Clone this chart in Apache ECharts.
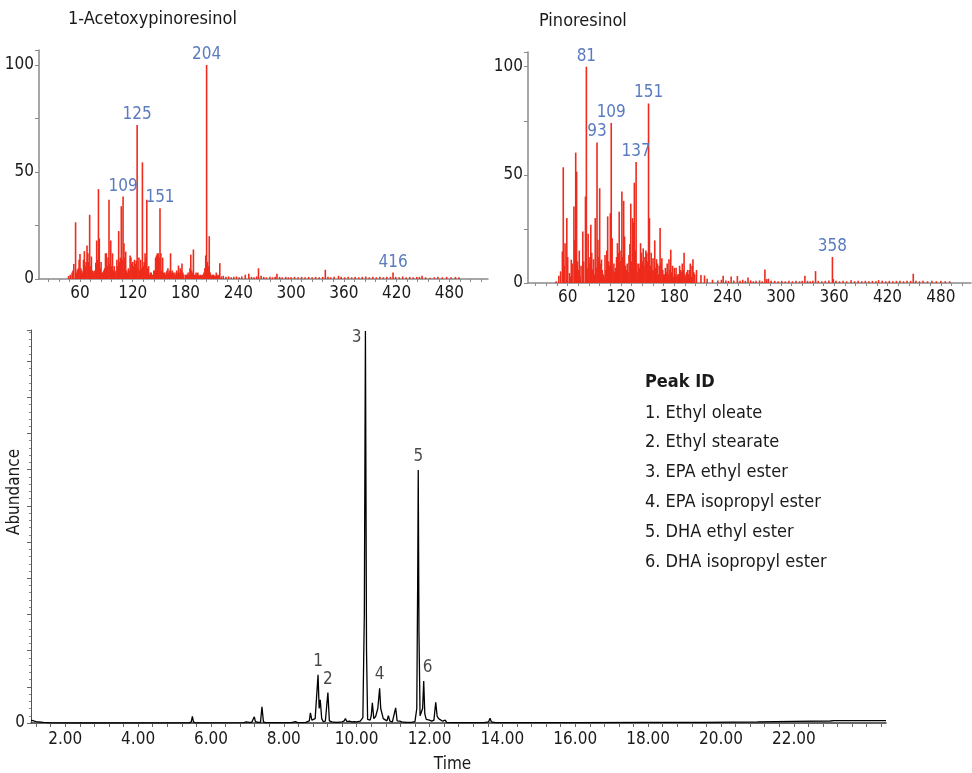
<!DOCTYPE html>
<html>
<head>
<meta charset="utf-8">
<title>GC/MS – ethyl esters</title>
<script src="https://cdn.jsdelivr.net/npm/echarts@6/dist/echarts.min.js"></script>
<style>
  html, body { margin: 0; padding: 0; background: #fff; }
  #chart { width: 972px; height: 773px; }
</style>
</head>
<body>
<div id="chart"></div>
<script>
// Mass spectrum of 1-acetoxypinoresinol: [m/z, relative abundance]
const acetoxyPeaks = [
  [47, 1.4], [49, 2], [51, 3], [52, 4], [53, 7], [55, 26.5], [56, 3], [57, 4.3], [58, 5], [59, 9],
  [60, 11.7], [61, 5], [62, 4], [63, 3], [64, 9], [65, 13], [66, 6], [67, 8], [68, 15.6], [69, 12],
  [70, 8], [71, 30], [72, 6], [73, 10.5], [74, 4], [75, 3], [76, 3.7], [77, 4], [78, 7.6], [79, 18],
  [80, 9], [81, 42], [82, 19], [83, 5], [84, 8], [85, 3], [86, 3], [87, 4], [88, 5], [89, 12],
  [90, 12], [91, 6], [92, 10], [93, 37], [94, 7], [95, 18], [96, 6], [97, 12], [98, 4], [99, 6],
  [100, 3], [101, 4], [102, 9], [103, 6], [104, 22.4], [105, 8], [106, 10], [107, 34], [108, 9], [109, 38.5],
  [110, 16.7], [111, 10], [112, 12.8], [113, 4], [114, 3], [115, 5], [116, 4], [117, 11], [118, 10], [119, 7],
  [120, 8], [121, 6], [122, 9], [123, 7], [124, 8.5], [125, 72], [126, 5], [127, 10], [128, 4], [129, 9],
  [130, 5], [131, 54.5], [132, 6], [133, 8], [134, 12], [135, 10], [136, 37], [137, 5], [138, 6], [139, 2],
  [140, 3], [141, 3], [142, 2], [143, 2], [144, 4], [145, 4], [146, 10], [147, 11], [148, 12], [149, 12],
  [150, 10], [151, 33], [152, 12], [153, 4], [154, 10], [155, 3], [156, 3], [157, 2], [158, 3], [159, 4],
  [160, 5], [161, 3], [162, 4], [163, 12], [164, 3], [165, 4], [166, 3], [167, 2], [168, 3], [169, 2],
  [170, 4], [171, 3], [172, 6.3], [173, 3], [174, 5], [175, 4], [176, 7.3], [177, 3], [178, 2], [180, 2],
  [181, 2], [182, 2], [183, 3], [184, 2], [185, 5], [186, 11.4], [187, 4], [188, 3], [189, 13.8], [190, 2],
  [191, 2], [192, 3], [193, 2], [194, 3], [195, 2], [196, 1.5], [197, 2], [198, 1.5], [199, 2], [200, 2],
  [201, 3], [202, 5], [203, 11], [204, 100], [205, 8], [206, 6], [207, 20], [208, 3], [209, 2], [210, 1.5],
  [211, 2], [212, 2], [213, 1.5], [214, 1.5], [215, 3], [216, 1.5], [217, 2], [218, 1.5], [219, 7.4], [221, 1.2],
  [223, 1.5], [226, 1], [229, 1.2], [232, 0.8], [235, 1], [238, 1.2], [241, 0.8], [244, 1.2], [248, 2], [252, 2.5],
  [255, 1], [258, 0.8], [261, 1.2], [263, 5], [266, 1.5], [269, 1], [272, 0.8], [276, 1], [279, 0.8], [282, 1],
  [284, 2.5], [287, 1], [290, 0.8], [294, 1], [297, 0.8], [300, 0.8], [304, 1], [308, 0.8], [312, 1], [316, 0.8],
  [320, 1], [324, 0.8], [328, 1], [332, 0.8], [336, 1], [339, 4.3], [342, 1], [345, 0.8], [349, 1], [354, 1.5],
  [357, 1], [361, 0.8], [365, 1], [369, 0.8], [373, 1], [377, 0.8], [381, 1], [385, 1.2], [389, 0.8], [393, 1],
  [397, 0.8], [401, 1], [405, 0.8], [409, 1], [413, 1], [416, 3], [419, 1], [423, 0.8], [427, 1.2], [431, 0.8],
  [435, 1], [439, 0.8], [443, 1], [446, 1], [449, 1.5], [453, 0.8], [458, 0.6], [463, 0.8], [467, 1], [472, 0.8],
  [477, 1], [482, 0.8], [487, 1], [491, 0.8]
]
const acetoxyLabels = [109, 125, 151, 204, 416]

// Mass spectrum of pinoresinol
const pinoPeaks = [
  [47, 0.8], [50, 3.4], [52, 5.4], [54, 14.6], [55, 53.5], [56, 8], [57, 18.4], [59, 30], [60, 12], [62, 4.6],
  [63, 3], [64, 10.8], [65, 9], [67, 35.4], [68, 20], [69, 60.3], [70, 51.5], [71, 10], [72, 6], [73, 15],
  [74, 3], [75, 8], [77, 23.8], [78, 10], [80, 40], [81, 100], [82, 7], [83, 22.8], [84, 12], [85, 9],
  [86, 26.9], [87, 14], [88, 6.3], [89, 11], [90, 4], [91, 30], [92, 7], [93, 65], [94, 20], [95, 12],
  [96, 43.8], [97, 9], [98, 10.8], [99, 6], [100, 4], [101, 3], [102, 13], [103, 6], [104, 15], [105, 30.8],
  [106, 10], [107, 8], [108, 32.3], [109, 74], [110, 20.7], [111, 6], [112, 9], [113, 5], [114, 7], [115, 12],
  [116, 18.4], [117, 14], [118, 33], [119, 10], [120, 15], [121, 42.3], [122, 12], [123, 38], [124, 21.5], [125, 8],
  [126, 6], [127, 9], [128, 5], [129, 13], [130, 18], [131, 36.7], [132, 10], [133, 30], [134, 28], [135, 46.4],
  [136, 15], [137, 56], [138, 9], [139, 5], [140, 9], [141, 7], [142, 18.4], [143, 14], [144, 10], [145, 16],
  [146, 8], [147, 12], [148, 15], [149, 14], [150, 10], [151, 83], [152, 30], [153, 8], [154, 14], [155, 6],
  [156, 11.5], [157, 6], [158, 19.7], [159, 7], [160, 11], [161, 9], [162, 4], [163, 8], [164, 25.4], [165, 9],
  [166, 11.5], [167, 6], [168, 4], [169, 4], [170, 7], [171, 5], [172, 9], [173, 4], [174, 11], [175, 6],
  [176, 15.4], [177, 5], [178, 8], [179, 3], [180, 7], [181, 4], [182, 7], [183, 3], [184, 4], [185, 4],
  [186, 8], [187, 6], [188, 5], [189, 9], [190, 6], [191, 14], [192, 4], [193, 3], [194, 5], [195, 6],
  [196, 4], [197, 6], [198, 9], [199, 3], [200, 8], [201, 11], [202, 5], [203, 4], [205, 6], [210, 3.7],
  [214, 3.5], [217, 2], [223, 1.5], [229, 1.2], [233, 1.5], [235, 3.4], [238, 1.2], [241, 1], [244, 3], [247, 1.2],
  [251, 3.2], [254, 1], [257, 1.5], [260, 1], [263, 2.5], [266, 1.2], [269, 0.8], [272, 1], [276, 1.2], [279, 0.8],
  [282, 6.2], [284, 1.8], [286, 2], [289, 1], [293, 1], [297, 0.8], [301, 1], [305, 0.8], [309, 1], [313, 0.8],
  [317, 1], [321, 0.8], [324, 1], [327, 3.4], [330, 1], [333, 0.8], [336, 1], [339, 5.5], [342, 1], [346, 0.8],
  [350, 1], [354, 1.2], [358, 12], [359, 1.8], [362, 1], [366, 0.8], [370, 1], [374, 0.8], [379, 1.3], [383, 0.8],
  [387, 1], [391, 0.8], [395, 1], [399, 0.8], [403, 1], [407, 0.8], [410, 1.3], [414, 1], [418, 0.8], [422, 1],
  [426, 0.8], [430, 1], [434, 1], [438, 0.8], [442, 1], [446, 1], [449, 4.3], [452, 1], [456, 0.8], [460, 1],
  [465, 0.8], [470, 1], [475, 0.8], [480, 1], [485, 0.8], [490, 0.8]
]
const pinoLabels = [81, 93, 109, 137, 151, 358]

const mzTickLabels = [60, 120, 180, 240, 300, 360, 420, 480]

// Total ion chromatogram: [time (min), abundance]
const chromPoints = [
  [1.06, 8], [1.2, 4], [1.4, 1.5], [1.6, 0.5], [2.5, 0], [5.40, 0.5], [5.46, 3], [5.49, 18], [5.52, 3], [5.58, 0.5],
  [6.9, 1], [6.97, 3], [7.05, 2], [7.12, 2], [7.16, 5], [7.19, 17], [7.22, 4], [7.3, 1.5], [7.36, 2], [7.40, 45],
  [7.44, 3], [7.5, 1], [8.2, 1], [8.32, 4], [8.38, 1], [8.6, 2], [8.70, 6], [8.73, 28], [8.77, 8], [8.81, 10],
  [8.86, 12], [8.94, 133], [8.97, 40], [9.00, 64], [9.04, 12], [9.08, 4], [9.14, 5], [9.21, 84], [9.25, 6], [9.32, 3],
  [9.44, 2], [9.6, 3], [9.66, 6], [9.69, 12], [9.73, 4], [9.8, 5], [9.87, 3], [9.93, 4], [10.0, 3], [10.1, 5],
  [10.17, 15], [10.21, 300], [10.24, 1083], [10.27, 200], [10.30, 10], [10.37, 8], [10.40, 20], [10.43, 56], [10.47, 12], [10.52, 18],
  [10.58, 40], [10.63, 96], [10.66, 40], [10.69, 35], [10.73, 12], [10.76, 8], [10.83, 6], [10.87, 20], [10.91, 5], [10.98, 3],
  [11.03, 8], [11.07, 42], [11.11, 6], [11.18, 5], [11.24, 3], [11.36, 2], [11.5, 2], [11.6, 4], [11.65, 40], [11.675, 400],
  [11.69, 699], [11.71, 250], [11.74, 20], [11.78, 15], [11.81, 40], [11.84, 116], [11.87, 25], [11.91, 10], [11.96, 6], [12.0, 8],
  [12.06, 5], [12.12, 8], [12.17, 57], [12.21, 18], [12.25, 12], [12.3, 8], [12.36, 5], [12.43, 8], [12.47, 2], [12.6, 1],
  [13.5, 1], [13.62, 3], [13.66, 13], [13.7, 3], [13.8, 1], [16, 1], [18, 1.5], [19.5, 2], [21, 3], [22, 4.5],
  [23.0, 5.5], [23.1, 6.5], [24.53, 6.5]
]

const peakIds = ['1', '2', '3', '4', '5', '6']
const peakTimes = [8.94, 9.21, 10.24, 10.63, 11.69, 11.84]
const peakHeights = [133, 84, 1083, 96, 699, 116]
const peakNames = [
  '1. Ethyl oleate',
  '2. Ethyl stearate',
  '3. EPA ethyl ester',
  '4. EPA isopropyl ester',
  '5. DHA ethyl ester',
  '6. DHA isopropyl ester',
]
const timeTickLabels = [2, 4, 6, 8, 10, 12, 14, 16, 18, 20, 22]

const fontFam = '"Liberation Sans Narrow", "DejaVu Sans Condensed", Roboto, sans-serif'
const textColor = '#1a1a1a'
const barRed = '#ee2b1c'
const labelBlue = '#5a7bbf'

// minor ticks on the m/z axes every 12 units, on the time axis every 0.4 min
const mzTicks = []
for (let v = 24; v <= 516; v += 12) mzTicks.push(v)
const timeTicks = []
for (let k = 3; k <= 61; k++) timeTicks.push(+(k * 0.4).toFixed(1))

const spectrumData = (peaks, labelled) => peaks.map(p => {
  const item = { value: p }
  if (labelled.includes(p[0])) {
    item.label = { show: true, position: 'top', distance: 2, formatter: String(p[0]) }
  }
  return item
})

const mzAxis = (idx, min, max) => ({
  type: 'value',
  gridIndex: idx,
  min: min,
  max: max,
  axisLine: { lineStyle: { color: '#8a8a8a', width: 1.5 } },
  axisTick: { show: true, length: 3, customValues: mzTicks.filter(v => v > min && v < max), lineStyle: { color: '#8a8a8a' } },
  axisLabel: { customValues: mzTickLabels, color: textColor, fontFamily: fontFam, fontSize: 17, margin: 6 },
  splitLine: { show: false },
})

const pctAxis = (idx, max) => ({
  type: 'value',
  gridIndex: idx,
  min: 0,
  max: max,
  interval: 25,
  axisLine: { show: true, lineStyle: { color: '#8a8a8a', width: 1.5 } },
  axisTick: { show: true, length: 4, lineStyle: { color: '#8a8a8a' } },
  axisLabel: {
    color: textColor, fontFamily: fontFam, fontSize: 17, margin: 5,
    formatter: v => (v % 50 === 0 ? String(v) : ''),
  },
  splitLine: { show: false },
})

const myChart = echarts.init(document.getElementById('chart'))

const option = {
  animation: false,
  backgroundColor: '#fff',
  textStyle: { fontFamily: fontFam },
  grid: [
    { left: 39, right: 484, top: 50, bottom: 494, outerBoundsMode: 'none' },
    { left: 528, right: 1, top: 52, bottom: 490, outerBoundsMode: 'none' },
    { left: 31, right: 86, top: 330, bottom: 50, outerBoundsMode: 'none' },
  ],
  xAxis: [
    mzAxis(0, 13.4, 524),
    mzAxis(1, 15.3, 514),
    {
      type: 'value',
      gridIndex: 2,
      min: 1.06,
      max: 24.53,
      name: 'Time',
      nameLocation: 'middle',
      nameGap: 33,
      nameTextStyle: { color: textColor, fontFamily: fontFam, fontSize: 17, padding: [0, 0, 0, -12] },
      axisLine: { lineStyle: { color: '#333', width: 1.5 } },
      axisTick: { show: true, length: 4, customValues: timeTicks, lineStyle: { color: '#666' } },
      axisLabel: {
        customValues: timeTickLabels, color: textColor, fontFamily: fontFam, fontSize: 17, margin: 8,
        formatter: v => v.toFixed(2),
      },
      splitLine: { show: false },
    },
  ],
  yAxis: [
    pctAxis(0, 107),
    pctAxis(1, 106.8),
    {
      type: 'value',
      gridIndex: 2,
      min: 0,
      max: 1086,
      interval: 100,
      axisLine: { show: true, lineStyle: { color: '#555', width: 1 } },
      axisTick: { show: true, length: 4, lineStyle: { color: '#666' } },
      minorTick: { show: true, splitNumber: 5, length: 2, lineStyle: { color: '#888' } },
      axisLabel: {
        color: textColor, fontFamily: fontFam, fontSize: 17, margin: 6,
        formatter: v => (v === 0 ? '0' : ''),
      },
      splitLine: { show: false },
    },
  ],
  graphic: [
    {
      type: 'text', left: 68, top: 10,
      style: { text: '1-Acetoxypinoresinol', fill: textColor, font: '18px ' + fontFam },
    },
    {
      type: 'text', left: 539, top: 12,
      style: { text: 'Pinoresinol', fill: textColor, font: '18px ' + fontFam },
    },
    {
      type: 'text', x: 15, y: 492, rotation: Math.PI / 2,
      style: { text: 'Abundance', fill: textColor, font: '17px ' + fontFam, align: 'center', verticalAlign: 'middle' },
    },
    {
      type: 'text', x: 645, y: 382,
      style: { text: 'Peak ID', fill: textColor, font: 'bold 18px ' + fontFam, verticalAlign: 'middle' },
    },
    ...peakNames.map((name, i) => ({
      type: 'text', x: 645, y: 413 + i * 29.8,
      style: { text: name, fill: textColor, font: '18px ' + fontFam, verticalAlign: 'middle' },
    })),
  ],
  series: [
    {
      name: '1-Acetoxypinoresinol',
      type: 'bar',
      xAxisIndex: 0,
      yAxisIndex: 0,
      barWidth: 1.6,
      itemStyle: { color: barRed },
      label: { color: labelBlue, fontFamily: fontFam, fontSize: 17 },
      data: spectrumData(acetoxyPeaks, acetoxyLabels),
    },
    {
      name: 'Pinoresinol',
      type: 'bar',
      xAxisIndex: 1,
      yAxisIndex: 1,
      barWidth: 1.6,
      itemStyle: { color: barRed },
      label: { color: labelBlue, fontFamily: fontFam, fontSize: 17 },
      data: spectrumData(pinoPeaks, pinoLabels),
    },
    {
      name: 'TIC',
      type: 'line',
      xAxisIndex: 2,
      yAxisIndex: 2,
      symbol: 'none',
      lineStyle: { color: '#000', width: 1.3 },
      data: chromPoints,
      z: 3,
    },
    {
      name: 'Peak numbers',
      type: 'scatter',
      xAxisIndex: 2,
      yAxisIndex: 2,
      symbolSize: 0,
      silent: true,
      data: peakIds.map((id, i) => ({
        value: [peakTimes[i], peakHeights[i]],
        label: id === '3'
          ? { show: true, position: 'left', distance: 4, offset: [0, 6], formatter: id }
          : { show: true, position: 'top', distance: 5, offset: id === '6' ? [4, 0] : [0, 0], formatter: id },
      })),
      label: { color: textColor, fontFamily: fontFam, fontSize: 17 },
      z: 4,
    },
  ],
}

myChart.setOption(option)
</script>
</body>
</html>
